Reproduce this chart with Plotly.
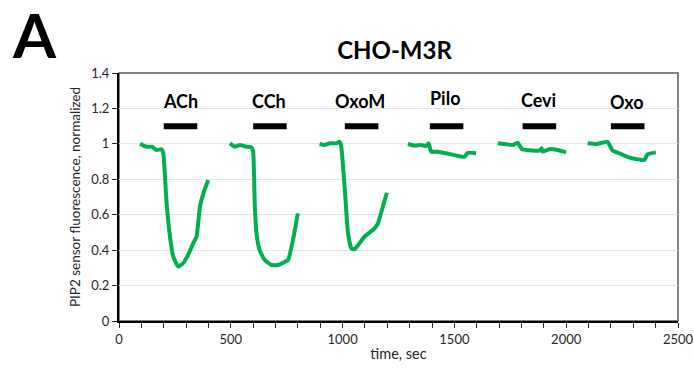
import plotly.graph_objects as go

# ---- data ----
ach_t = [94, 123, 146, 168, 190, 198, 213, 228, 243, 265, 287, 309, 332, 347, 362, 380, 399]
ach_v = [1.00, 0.984, 0.984, 0.965, 0.97, 0.947, 0.664, 0.476, 0.363, 0.307, 0.326, 0.373, 0.439, 0.476, 0.645, 0.73, 0.796]

cch_t = [496, 518, 540, 570, 592, 600, 607, 615, 629, 652, 682, 711, 734, 756, 778, 800]
cch_v = [1.003, 0.984, 0.993, 0.984, 0.98, 0.956, 0.664, 0.495, 0.40, 0.344, 0.316, 0.316, 0.329, 0.344, 0.457, 0.608]

oxom_t = [897, 920, 942, 972, 987, 994, 1009, 1024, 1039, 1054, 1076, 1098, 1121, 1143, 1158, 1180, 1198]
oxom_v = [0.999, 0.993, 1.003, 1.003, 1.012, 0.984, 0.758, 0.495, 0.41, 0.405, 0.439, 0.476, 0.50, 0.523, 0.551, 0.645, 0.724]

pilo_t = [1292, 1321, 1351, 1374, 1385, 1396, 1426, 1463, 1508, 1545, 1560, 1597]
pilo_v = [0.999, 0.99, 0.993, 0.988, 1.003, 0.956, 0.956, 0.947, 0.934, 0.927, 0.95, 0.947]

cevi_t = [1694, 1723, 1761, 1783, 1802, 1850, 1880, 1890, 1895, 1925, 1962, 1999]
cevi_v = [1.003, 0.999, 0.993, 1.007, 0.97, 0.962, 0.962, 0.975, 0.956, 0.97, 0.965, 0.952]

oxo_t = [2096, 2133, 2163, 2185, 2207, 2237, 2274, 2312, 2349, 2364, 2401]
oxo_v = [1.003, 0.999, 1.007, 1.012, 0.962, 0.947, 0.927, 0.914, 0.909, 0.941, 0.952]

agonists = ["ACh", "CCh", "OxoM", "Pilo", "Cevi", "Oxo"]
bar_start = [200, 600, 1010, 1390, 1805, 2200]
bar_end = [350, 750, 1160, 1540, 1955, 2350]
bar_level = 1.1
label_x = [273, 671, 1078, 1462, 1878, 2270]
label_y = [1.242, 1.242, 1.242, 1.257, 1.248, 1.238]

x_ticks = [0, 500, 1000, 1500, 2000, 2500]
y_ticks = [0, 0.2, 0.4, 0.6, 0.8, 1, 1.2, 1.4]
y_tick_text = ["0", "0.2", "0.4", "0.6", "0.8", "1", "1.2", "1.4"]

GREEN = "#00B050"
FONT = "Lato"
TXT = "#262626"

W, H = 694, 369
ML, MR, MT, MB = 119, 16, 73, 48
PW, PH = W - ML - MR, H - MT - MB

fig = go.Figure()

series = [(ach_t, ach_v), (cch_t, cch_v), (oxom_t, oxom_v),
          (pilo_t, pilo_v), (cevi_t, cevi_v), (oxo_t, oxo_v)]
for t, v in series:
    fig.add_trace(go.Scatter(x=t, y=v, mode="lines",
                             line=dict(color=GREEN, width=4, shape="spline", smoothing=0.4),
                             showlegend=False, hoverinfo="skip"))

for s, e in zip(bar_start, bar_end):
    fig.add_trace(go.Scatter(x=[s, e], y=[bar_level, bar_level], mode="lines",
                             line=dict(color="black", width=6),
                             showlegend=False, hoverinfo="skip"))

for name, lx, ly in zip(agonists, label_x, label_y):
    fig.add_annotation(x=lx, y=ly, text="<b>%s</b>" % name, showarrow=False,
                       xanchor="center", yanchor="middle",
                       font=dict(family=FONT, size=18, color="black"))

# panel letter
fig.add_annotation(x=(34 - ML) / PW, y=(H - MB - 34) / PH, xref="paper", yref="paper",
                   text="<b>A</b>", showarrow=False, xanchor="center", yanchor="middle",
                   font=dict(family=FONT, size=62, color="black"))

# frame (top/right)
fig.add_shape(type="rect", xref="paper", yref="paper", x0=0, y0=0, x1=1, y1=1,
              line=dict(color="#595959", width=1.5), layer="below")

fig.update_layout(
    width=W, height=H,
    margin=dict(l=ML, r=MR, t=MT, b=MB, autoexpand=False),
    paper_bgcolor="white", plot_bgcolor="white",
    font=dict(family=FONT, size=13, color=TXT),
    title=dict(text="<b>CHO-M3R</b>", x=394.5 / W, y=1 - 50.5 / H,
               xanchor="center", yanchor="middle",
               font=dict(family=FONT, size=24, color="black")),
    xaxis=dict(range=[0, 2500], tickvals=x_ticks, ticktext=[str(v) for v in x_ticks],
               ticks="outside", ticklen=5, tickwidth=1, tickcolor=TXT,
               minor=dict(dtick=100, ticks="outside", ticklen=5, tickwidth=1, tickcolor=TXT),
               showline=True, linecolor="black", linewidth=2,
               showgrid=False, zeroline=False, automargin=False,
               tickfont=dict(family=FONT, size=13, color=TXT),
               title=dict(text="time, sec", font=dict(family=FONT, size=14.5, color=TXT), standoff=3)),
    yaxis=dict(range=[0, 1.4], tickvals=y_ticks, ticktext=y_tick_text,
               ticks="outside", ticklen=5, tickwidth=1, tickcolor=TXT,
               showline=True, linecolor="black", linewidth=2,
               showgrid=True, gridcolor="#e3e3e3", gridwidth=1, zeroline=False, automargin=False,
               tickfont=dict(family=FONT, size=13, color=TXT),
               title=dict(text="PIP2 sensor fluorescence, normalized",
                          font=dict(family=FONT, size=13.5, color=TXT), standoff=8)),
)

fig.write_html("out.html")
